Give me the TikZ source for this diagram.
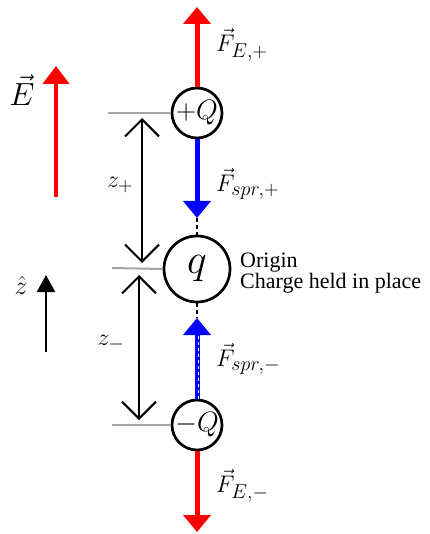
\RequirePackage{fix-cm}
\documentclass[tikz,border=0pt]{standalone}
\usepackage{fontspec}
\setmainfont{Liberation Serif}
\usetikzlibrary{arrows.meta}
\DeclareMathSizes{24}{24}{20}{16}
\definecolor{myred}{RGB}{255,0,0}
\definecolor{myblue}{RGB}{0,0,255}
\definecolor{mygray}{RGB}{165,165,165}
\begin{document}
\begin{tikzpicture}[x=1pt,y=-1pt,
  charge/.style={circle,draw=black,line width=2.7pt,inner sep=0pt,fill=white},
  redarrow/.style={draw=myred,line width=5pt,-{Triangle[width=27pt,length=17pt]}},
  bluearrow/.style={draw=myblue,line width=5pt,-{Triangle[width=27pt,length=17pt]}},
  dashline/.style={draw=black,line width=2pt,dash pattern=on 4pt off 3pt},
  guide/.style={draw=mygray,line width=2pt},
  dimarrow/.style={draw=black,line width=2pt,{Straight Barb[width=34pt,length=17pt]}-{Straight Barb[width=34pt,length=17pt]}},
  mlbl/.style={inner sep=0pt,font=\fontsize{24}{24}\selectfont},
  lbl/.style={inner sep=0pt,font=\fontsize{22}{22}\selectfont}]
\useasboundingbox (0,0) rectangle (429,534);

% charges
\node[charge,minimum size=50pt,font=\fontsize{28}{28}\selectfont] (Qp) at (197,113) {$+Q$};
\node[charge,minimum size=66pt,font=\fontsize{42}{42}\selectfont] (q) at (197,269) {$q$};
\node[charge,minimum size=50pt,font=\fontsize{28}{28}\selectfont] (Qm) at (197,425) {$-Q$};

% end points
\coordinate (topTip) at (197,7);
\coordinate (bluTipA) at (197,218);
\coordinate (bluTipB) at (197,318);
\coordinate (botTip) at (197,532);

% guide lines
\coordinate (gA) at (108,113);
\coordinate (gB) at (112,268);
\coordinate (gC) at (112,425);
\draw[guide] (gA) -- (Qp.west);
\draw[guide] (gB) -- (q.west);
\draw[guide] (gC) -- (Qm.west);

% forces
\draw[redarrow] (Qp.north) -- (topTip);
\draw[bluearrow] (Qp.south) -- (bluTipA);
\draw[dashline] (bluTipA) -- (q.north);
\draw[dashline] (q.south) -- (bluTipB);
\draw[bluearrow] (Qm.north) -- (bluTipB);
\coordinate (wA) at (198.5,336);
\coordinate (wB) at (198.5,399);
\draw[white,line width=1pt,dash pattern=on 3pt off 3pt] (wA) -- (wB);
\draw[redarrow] (Qm.south) -- (botTip);

% dimension arrows
\coordinate (dA1) at (142,118);
\coordinate (dA2) at (142,263);
\coordinate (dB1) at (139,275);
\coordinate (dB2) at (139,420);
\draw[dimarrow] (dA1) -- (dA2);
\draw[dimarrow] (dB1) -- (dB2);
\node[mlbl] (zp) at (120,185) {$z_+$};
\node[mlbl] (zm) at (111,343) {$z_-$};

% field arrow
\coordinate (eB) at (56,197);
\coordinate (eT) at (56,66);
\draw[draw=myred,line width=4.5pt,-{Triangle[width=26pt,length=18pt]}] (eB) -- (eT);
\node[inner sep=0pt,font=\fontsize{32}{32}\selectfont] (Elbl) at (22,90) {$\vec{E}$};

% z hat
\coordinate (zB) at (46,352);
\coordinate (zT) at (46,275);
\draw[draw=black,line width=2pt,-{Triangle[width=18pt,length=17pt]}] (zB) -- (zT);
\node[inner sep=0pt,font=\fontsize{26}{26}\selectfont] (zhat) at (21,285) {$\hat{z}$};

% force labels
\node[mlbl,anchor=west] (FEp) at (216,45) {$\vec{F}_{E,+}$};
\node[mlbl,anchor=west] (Fsp) at (216,184) {$\vec{F}_{spr,+}$};
\node[mlbl,anchor=west] (Fsm) at (216,359) {$\vec{F}_{spr,-}$};
\node[mlbl,anchor=west] (FEm) at (216,486) {$\vec{F}_{E,-}$};

% text
\node[lbl,anchor=base west] (orig) at (240,267) {Origin};
\node[lbl,anchor=base west] (held) at (240,288) {Charge held in place};
\end{tikzpicture}
\end{document}
